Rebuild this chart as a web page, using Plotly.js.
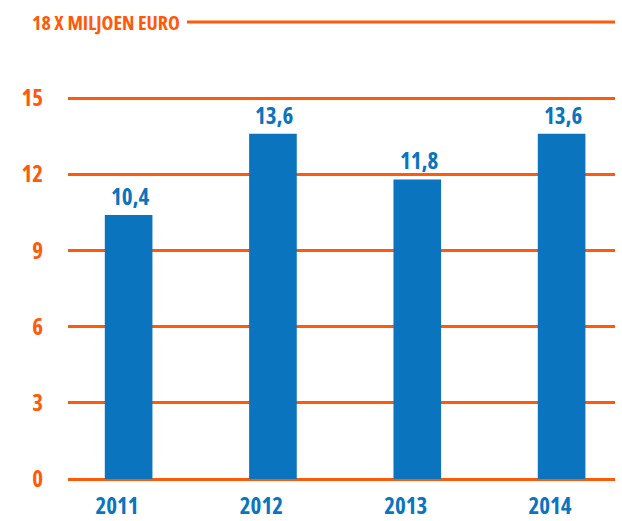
<!DOCTYPE html>
<html>
<head>
<meta charset="utf-8">
<script src="https://cdn.plot.ly/plotly-3.0.1.min.js"></script>
<style>
html,body{margin:0;padding:0;background:#fff;}
#chart{width:622px;height:521px;}
svg text, text{font-stretch:condensed !important;}
</style>
</head>
<body>
<div id="chart"></div>
<script>
var years = ["2011", "2012", "2013", "2014"];
var values = [10.4, 13.6, 11.8, 13.6];
var yTicks = [0, 3, 6, 9, 12, 15];
var unitLabel = "18 X MILJOEN EURO";

var orange = "#FF5A0A";
var blue = "#0A74BE";
var font = "'Open Sans', sans-serif";

var data = [{
  type: "bar",
  x: years,
  y: values,
  width: 0.33,
  offset: -0.085,
  marker: {color: blue, line: {width: 0}},
  hoverinfo: "none"
}];

var valueNotes = years.map(function (yr, i) {
  return {
    xref: "x", yref: "y", x: i, y: values[i],
    xanchor: "center", yanchor: "bottom", yshift: 1, xshift: 13,
    text: values[i].toFixed(1).replace(".", ","),
    showarrow: false,
    font: {family: font, size: 23, color: blue, weight: "bold"}
  };
});

var layout = {
  width: 622, height: 521,
  margin: {l: 68, r: 7, t: 22, b: 42},
  paper_bgcolor: "#fff", plot_bgcolor: "#fff",
  showlegend: false,
  xaxis: {
    type: "category",
    range: [-0.34, 3.45],
    showgrid: false, zeroline: false, showline: false,
    ticks: "", ticklabelstandoff: 11,
    tickfont: {family: font, size: 23, color: blue, weight: "bold"}
  },
  yaxis: {
    range: [0, 18],
    tickvals: yTicks,
    ticktext: yTicks.map(String),
    showgrid: true, gridcolor: orange, gridwidth: 3,
    zeroline: true, zerolinecolor: orange, zerolinewidth: 3,
    showline: false, ticks: "", ticklabelstandoff: 24,
    tickfont: {family: font, size: 23, color: orange, weight: "bold"}
  },
  shapes: [{
    type: "line", xref: "paper", yref: "paper",
    x0: 0.2175, x1: 1, y0: 1, y1: 1,
    line: {color: orange, width: 3}
  }],
  annotations: [{
    xref: "paper", yref: "paper",
    x: -0.07, y: 1,
    xanchor: "left", yanchor: "middle",
    text: unitLabel, showarrow: false,
    font: {family: font, size: 20, color: orange, weight: "bold"}
  }].concat(valueNotes)
};

Plotly.newPlot("chart", data, layout, {staticPlot: true, displayModeBar: false});
</script>
</body>
</html>
